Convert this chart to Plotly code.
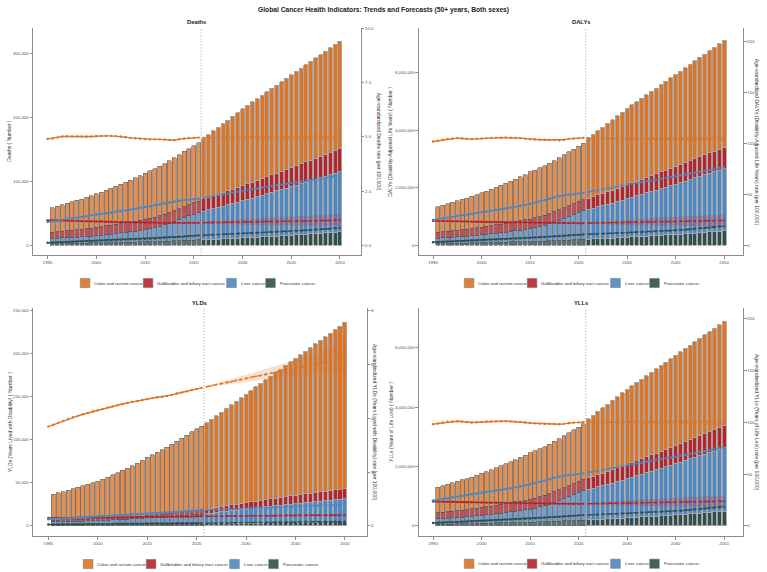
import plotly.graph_objects as go

# ---------------- data ----------------
bar_years = list(range(1991, 2051))      # stacked bars
rate_years = list(range(1990, 2051))     # age-standardized rate lines
last_observed = 2021
band_years = [2022, 2029, 2036, 2043, 2050]

cancers = ["Colon and rectum cancer", "Gallbladder and biliary tract cancer",
           "Liver cancer", "Pancreatic cancer"]
colors = {"Colon and rectum cancer": "#DD7426",
          "Gallbladder and biliary tract cancer": "#B8242C",
          "Liver cancer": "#4C87C6",
          "Pancreatic cancer": "#2F4F4F"}
rgb = {"Colon and rectum cancer": "221,116,38",
       "Gallbladder and biliary tract cancer": "200,40,50",
       "Liver cancer": "76,135,198",
       "Pancreatic cancer": "47,79,79"}

# ---- Deaths (thousands) ----
deaths_colon_k = [38.7, 40.3, 41.9, 43.2, 44.6, 46.0, 47.4, 48.9, 50.6, 52.5,
                  54.2, 56.0, 57.9, 59.8, 61.8, 63.7, 65.7, 67.8, 70.2, 72.8,
                  74.6, 76.3, 77.9, 79.5, 81.2, 83.0, 85.0, 86.9, 88.5, 89.7,
                  91.8, 95.4, 98.6, 101.8, 105.0, 108.2, 111.3, 114.4, 117.5, 120.5,
                  123.1, 125.6, 128.1, 130.6, 133.1, 135.6, 138.1, 140.5, 143.0, 145.4,
                  147.8, 150.2, 152.5, 154.8, 157.2, 159.5, 161.8, 164.1, 166.4, 168.7]
deaths_gb_k = [9.9, 10.2, 10.5, 10.8, 11.1, 11.4, 11.7, 12.1, 12.5, 13.0,
               13.3, 13.6, 13.9, 14.2, 14.5, 14.8, 15.1, 15.4, 15.7, 16.0,
               16.2, 16.3, 16.5, 16.6, 16.8, 16.9, 17.0, 17.2, 17.3, 17.5,
               17.8, 18.9, 19.5, 20.1, 20.7, 21.3, 21.9, 22.5, 23.1, 23.8,
               24.4, 25.0, 25.6, 26.2, 26.8, 27.4, 28.0, 28.6, 29.3, 30.0,
               30.6, 31.2, 31.9, 32.5, 33.2, 33.8, 34.5, 35.1, 35.8, 36.5]
deaths_liver_k = [8.3, 8.6, 8.9, 9.2, 9.5, 9.8, 10.1, 10.5, 10.9, 11.4,
                  12.0, 12.6, 13.3, 14.0, 14.8, 15.6, 16.4, 17.2, 18.1, 19.0,
                  20.4, 21.9, 23.5, 25.5, 27.8, 30.2, 32.9, 35.5, 38.2, 41.0,
                  43.0, 44.9, 46.4, 48.0, 49.5, 51.1, 52.7, 54.4, 56.2, 58.0,
                  59.8, 61.6, 63.4, 65.2, 67.0, 68.8, 70.6, 72.4, 74.2, 76.0,
                  77.8, 79.6, 81.4, 83.2, 85.0, 86.8, 88.6, 90.4, 92.2, 94.0]
deaths_panc_k = [2.0, 2.2, 2.3, 2.5, 2.7, 2.8, 3.0, 3.2, 3.4, 3.6,
                 3.8, 3.9, 4.1, 4.3, 4.4, 4.6, 4.7, 4.9, 5.0, 5.2,
                 5.4, 5.6, 5.8, 6.1, 6.4, 6.7, 7.0, 7.3, 7.5, 7.8,
                 8.2, 8.6, 8.9, 9.3, 9.6, 10.0, 10.3, 10.7, 11.1, 11.5,
                 11.9, 12.3, 12.7, 13.1, 13.5, 13.9, 14.3, 14.7, 15.1, 15.6,
                 16.1, 16.6, 17.1, 17.6, 18.2, 18.7, 19.2, 19.7, 20.3, 20.8]

# ---- DALYs (millions) ----
dalys_colon_m = [0.890, 0.927, 0.960, 0.989, 1.021, 1.053, 1.081, 1.115, 1.154, 1.197,
                 1.230, 1.271, 1.314, 1.357, 1.397, 1.440, 1.485, 1.532, 1.580, 1.638,
                 1.664, 1.694, 1.722, 1.749, 1.778, 1.809, 1.845, 1.877, 1.903, 1.920,
                 1.965, 2.099, 2.169, 2.240, 2.310, 2.380, 2.449, 2.517, 2.585, 2.651,
                 2.708, 2.763, 2.818, 2.873, 2.928, 2.983, 3.038, 3.091, 3.146, 3.199,
                 3.252, 3.304, 3.355, 3.406, 3.458, 3.509, 3.560, 3.610, 3.661, 3.711]
dalys_gb_m = [0.208, 0.214, 0.221, 0.227, 0.233, 0.239, 0.246, 0.254, 0.263, 0.273,
              0.279, 0.286, 0.292, 0.298, 0.305, 0.311, 0.317, 0.323, 0.330, 0.336,
              0.340, 0.342, 0.346, 0.349, 0.353, 0.355, 0.357, 0.361, 0.363, 0.368,
              0.374, 0.393, 0.405, 0.418, 0.430, 0.443, 0.455, 0.467, 0.479, 0.494,
              0.506, 0.518, 0.530, 0.542, 0.554, 0.566, 0.578, 0.590, 0.604, 0.618,
              0.630, 0.642, 0.656, 0.668, 0.682, 0.694, 0.708, 0.720, 0.733, 0.747]
dalys_liver_m = [0.195, 0.202, 0.209, 0.216, 0.223, 0.230, 0.237, 0.247, 0.256, 0.268,
                 0.282, 0.296, 0.313, 0.329, 0.348, 0.367, 0.385, 0.404, 0.425, 0.447,
                 0.479, 0.515, 0.552, 0.599, 0.653, 0.710, 0.773, 0.834, 0.898, 0.964,
                 1.011, 1.033, 1.067, 1.104, 1.139, 1.175, 1.212, 1.251, 1.293, 1.334,
                 1.375, 1.417, 1.458, 1.500, 1.541, 1.582, 1.624, 1.665, 1.707, 1.748,
                 1.789, 1.831, 1.872, 1.914, 1.955, 1.996, 2.038, 2.079, 2.121, 2.162]
dalys_panc_m = [0.048, 0.053, 0.055, 0.060, 0.065, 0.067, 0.072, 0.077, 0.082, 0.086,
                0.091, 0.094, 0.098, 0.103, 0.106, 0.110, 0.113, 0.118, 0.120, 0.125,
                0.130, 0.134, 0.139, 0.146, 0.154, 0.161, 0.168, 0.175, 0.180, 0.187,
                0.197, 0.206, 0.214, 0.223, 0.230, 0.240, 0.247, 0.257, 0.266, 0.276,
                0.286, 0.295, 0.305, 0.314, 0.324, 0.334, 0.343, 0.353, 0.362, 0.374,
                0.386, 0.398, 0.410, 0.422, 0.437, 0.449, 0.461, 0.473, 0.487, 0.499]

# ---- YLDs (thousands) ----
ylds_colon_k = [30.0, 31.5, 32.9, 34.4, 35.8, 37.2, 38.8, 40.3, 41.8, 43.4,
                45.5, 47.7, 49.9, 52.3, 54.5, 57.0, 59.3, 61.9, 64.6, 68.0,
                70.3, 72.6, 75.0, 77.4, 79.9, 82.9, 85.7, 88.4, 91.5, 94.4,
                96.8, 100.1, 103.2, 106.5, 109.6, 112.8, 116.0, 119.3, 122.5, 125.7,
                129.0, 132.3, 135.6, 138.9, 142.2, 145.6, 148.8, 152.2, 155.4, 158.8,
                162.1, 165.5, 168.8, 172.2, 175.5, 178.9, 182.2, 185.7, 189.0, 192.5]
ylds_gb_k = [1.9, 1.9, 1.9, 2.0, 2.0, 2.0, 2.0, 2.0, 2.0, 2.0,
             2.1, 2.1, 2.2, 2.2, 2.3, 2.3, 2.4, 2.4, 2.5, 2.5,
             2.7, 2.9, 3.1, 3.3, 3.6, 3.8, 4.1, 4.4, 4.7, 5.0,
             5.2, 5.4, 5.7, 5.9, 6.2, 6.5, 6.7, 7.0, 7.2, 7.5,
             7.7, 8.0, 8.2, 8.5, 8.7, 8.9, 9.2, 9.4, 9.7, 9.9,
             10.1, 10.3, 10.5, 10.7, 10.8, 11.0, 11.2, 11.3, 11.5, 11.6]
ylds_liver_k = [3.7, 3.8, 3.9, 4.0, 4.2, 4.3, 4.4, 4.6, 4.8, 5.0,
                5.2, 5.4, 5.6, 5.8, 6.1, 6.3, 6.6, 6.9, 7.2, 7.6,
                7.9, 8.2, 8.5, 8.8, 9.1, 9.4, 9.8, 10.2, 10.6, 11.0,
                11.4, 11.8, 12.4, 13.0, 13.6, 14.2, 14.8, 15.3, 15.9, 16.5,
                17.0, 17.5, 18.0, 18.5, 19.0, 19.5, 20.0, 20.5, 21.0, 21.5,
                22.0, 22.5, 23.0, 23.5, 24.1, 24.6, 25.1, 25.6, 26.1, 26.6]
ylds_panc_k = [0.9, 0.9, 1.0, 1.0, 1.0, 1.1, 1.1, 1.1, 1.2, 1.2,
               1.2, 1.3, 1.3, 1.3, 1.4, 1.4, 1.5, 1.5, 1.5, 1.6,
               1.6, 1.7, 1.7, 1.8, 1.8, 1.9, 1.9, 2.0, 2.0, 2.1,
               2.1, 2.2, 2.3, 2.4, 2.5, 2.6, 2.7, 2.8, 2.9, 3.0,
               3.1, 3.2, 3.3, 3.4, 3.5, 3.6, 3.7, 3.8, 3.9, 4.0,
               4.1, 4.2, 4.3, 4.4, 4.5, 4.6, 4.7, 4.8, 4.9, 5.0]

# ---- YLLs (millions) ----
ylls_colon_m = [0.860, 0.896, 0.927, 0.955, 0.985, 1.016, 1.042, 1.075, 1.112, 1.154,
                1.185, 1.223, 1.264, 1.305, 1.343, 1.383, 1.426, 1.470, 1.515, 1.570,
                1.594, 1.621, 1.647, 1.672, 1.698, 1.726, 1.759, 1.789, 1.812, 1.826,
                1.868, 1.999, 2.066, 2.134, 2.200, 2.267, 2.333, 2.398, 2.463, 2.525,
                2.579, 2.631, 2.682, 2.734, 2.786, 2.837, 2.889, 2.939, 2.991, 3.040,
                3.090, 3.139, 3.186, 3.234, 3.283, 3.330, 3.378, 3.424, 3.472, 3.519]
ylls_gb_m = [0.206, 0.212, 0.219, 0.225, 0.231, 0.237, 0.244, 0.252, 0.261, 0.271,
             0.277, 0.284, 0.290, 0.296, 0.303, 0.309, 0.315, 0.321, 0.328, 0.334,
             0.337, 0.339, 0.343, 0.346, 0.349, 0.351, 0.353, 0.357, 0.358, 0.363,
             0.369, 0.388, 0.399, 0.412, 0.424, 0.437, 0.448, 0.460, 0.472, 0.487,
             0.498, 0.510, 0.522, 0.534, 0.545, 0.557, 0.569, 0.581, 0.594, 0.608,
             0.620, 0.632, 0.646, 0.657, 0.671, 0.683, 0.697, 0.709, 0.722, 0.735]
ylls_liver_m = [0.191, 0.198, 0.205, 0.212, 0.219, 0.226, 0.233, 0.242, 0.251, 0.263,
                0.277, 0.291, 0.307, 0.323, 0.342, 0.361, 0.378, 0.397, 0.418, 0.439,
                0.471, 0.507, 0.544, 0.590, 0.644, 0.701, 0.763, 0.824, 0.887, 0.953,
                1.000, 1.021, 1.055, 1.091, 1.125, 1.161, 1.197, 1.236, 1.277, 1.318,
                1.358, 1.400, 1.440, 1.482, 1.522, 1.563, 1.604, 1.645, 1.686, 1.727,
                1.767, 1.809, 1.849, 1.891, 1.931, 1.971, 2.013, 2.053, 2.095, 2.135]
ylls_panc_m = [0.047, 0.052, 0.054, 0.059, 0.064, 0.066, 0.071, 0.076, 0.081, 0.085,
               0.090, 0.093, 0.097, 0.102, 0.105, 0.109, 0.112, 0.117, 0.119, 0.123,
               0.128, 0.132, 0.137, 0.144, 0.152, 0.159, 0.166, 0.173, 0.178, 0.185,
               0.195, 0.204, 0.212, 0.221, 0.228, 0.237, 0.244, 0.254, 0.263, 0.273,
               0.283, 0.292, 0.302, 0.311, 0.321, 0.330, 0.339, 0.349, 0.358, 0.370,
               0.382, 0.394, 0.406, 0.418, 0.432, 0.444, 0.456, 0.468, 0.482, 0.494]

# ---- Age-standardized rates per 100,000 (1990-2050; >2021 forecast) ----
rate_deaths_colon = [4.91, 4.93, 4.98, 5.02, 5.03, 5.02, 5.02, 5.02, 5.01, 5.02,
                     5.03, 5.05, 5.05, 5.05, 5.04, 5.02, 4.99, 4.96, 4.94, 4.92,
                     4.90, 4.89, 4.89, 4.89, 4.88, 4.86, 4.85, 4.90, 4.93, 4.95,
                     4.96, 4.97, 4.97, 4.97, 4.97, 4.97, 4.98, 4.98, 4.98, 4.98,
                     4.98, 4.98, 4.98, 4.98, 4.98, 4.98, 4.98, 4.98, 4.98, 4.98,
                     4.98, 4.98, 4.98, 4.98, 4.98, 4.98, 4.98, 4.98, 4.98, 4.98,
                     4.98]
rate_deaths_gb = [1.15, 1.15, 1.14, 1.14, 1.13, 1.13, 1.12, 1.11, 1.11, 1.10,
                  1.09, 1.09, 1.08, 1.08, 1.07, 1.07, 1.06, 1.06, 1.05, 1.05,
                  1.04, 1.04, 1.04, 1.03, 1.03, 1.03, 1.03, 1.03, 1.03, 1.03,
                  1.03, 1.03, 1.04, 1.04, 1.05, 1.05, 1.05, 1.06, 1.06, 1.07,
                  1.07, 1.07, 1.08, 1.08, 1.08, 1.09, 1.09, 1.09, 1.10, 1.10,
                  1.10, 1.11, 1.11, 1.12, 1.12, 1.13, 1.13, 1.14, 1.14, 1.15,
                  1.16]
rate_deaths_liver = [1.07, 1.10, 1.13, 1.17, 1.20, 1.24, 1.27, 1.31, 1.34, 1.38,
                     1.41, 1.44, 1.47, 1.50, 1.53, 1.56, 1.60, 1.64, 1.68, 1.72,
                     1.76, 1.80, 1.85, 1.89, 1.94, 1.98, 2.02, 2.05, 2.08, 2.10,
                     2.12, 2.15, 2.19, 2.23, 2.27, 2.31, 2.35, 2.39, 2.43, 2.48,
                     2.52, 2.55, 2.59, 2.62, 2.66, 2.69, 2.73, 2.76, 2.80, 2.83,
                     2.87, 2.90, 2.94, 2.97, 3.01, 3.04, 3.08, 3.11, 3.15, 3.18,
                     3.22]
rate_deaths_panc = [0.11, 0.12, 0.13, 0.14, 0.15, 0.16, 0.17, 0.18, 0.19, 0.20,
                    0.21, 0.22, 0.23, 0.23, 0.24, 0.25, 0.26, 0.27, 0.27, 0.28,
                    0.29, 0.30, 0.31, 0.33, 0.34, 0.36, 0.37, 0.39, 0.40, 0.42,
                    0.43, 0.45, 0.46, 0.47, 0.48, 0.49, 0.50, 0.51, 0.52, 0.53,
                    0.54, 0.55, 0.56, 0.57, 0.58, 0.59, 0.60, 0.61, 0.62, 0.63,
                    0.64, 0.66, 0.67, 0.69, 0.70, 0.72, 0.73, 0.75, 0.76, 0.78,
                    0.80]
rate_dalys_colon = [101.8, 102.5, 103.6, 104.4, 104.8, 105.1, 104.8, 104.4, 104.1, 104.4,
                    104.8, 105.1, 105.4, 105.4, 105.6, 105.7, 105.5, 105.3, 105.1, 104.6,
                    104.1, 103.8, 103.6, 103.5, 103.4, 103.2, 103.1, 103.6, 104.4, 104.8,
                    105.1, 105.4, 104.9, 104.8, 104.7, 104.7, 104.6, 104.6, 104.6, 104.5,
                    104.5, 104.5, 104.5, 104.5, 104.5, 104.5, 104.5, 104.5, 104.5, 104.5,
                    104.5, 104.5, 104.5, 104.5, 104.5, 104.5, 104.5, 104.5, 104.5, 104.5,
                    104.5]
rate_dalys_gb = [23.8, 23.8, 23.7, 23.6, 23.5, 23.4, 23.3, 23.2, 23.1, 23.0,
                 22.9, 22.8, 22.7, 22.6, 22.6, 22.5, 22.4, 22.4, 22.3, 22.3,
                 22.2, 22.1, 22.1, 22.0, 21.9, 21.9, 21.8, 21.8, 21.7, 21.7,
                 21.6, 21.6, 21.7, 21.8, 21.9, 21.9, 22.0, 22.1, 22.2, 22.2,
                 22.3, 22.4, 22.5, 22.6, 22.7, 22.8, 22.9, 23.0, 23.1, 23.2,
                 23.3, 23.4, 23.5, 23.6, 23.7, 23.8, 23.9, 24.0, 24.0, 24.1,
                 24.2]
rate_dalys_liver = [24.8, 25.5, 26.3, 27.0, 27.8, 28.5, 29.3, 30.0, 30.8, 31.6,
                    32.4, 33.1, 33.8, 34.5, 35.2, 36.0, 36.8, 37.6, 38.5, 39.5,
                    40.5, 41.8, 43.0, 44.2, 45.5, 47.0, 48.1, 49.0, 49.6, 50.0,
                    50.6, 51.3, 52.2, 53.1, 54.0, 54.9, 55.8, 56.7, 57.6, 58.5,
                    59.5, 60.3, 61.1, 61.9, 62.7, 63.5, 64.3, 65.1, 65.9, 66.8,
                    67.6, 68.5, 69.4, 70.3, 71.2, 72.1, 73.0, 73.9, 74.8, 75.7,
                    76.5]
rate_dalys_panc = [2.9, 3.1, 3.3, 3.5, 3.7, 3.9, 4.1, 4.4, 4.6, 4.8,
                   5.0, 5.2, 5.4, 5.6, 5.8, 6.0, 6.3, 6.5, 6.7, 7.0,
                   7.2, 7.5, 7.8, 8.1, 8.4, 8.7, 9.0, 9.3, 9.7, 10.0,
                   10.3, 10.5, 10.7, 10.9, 11.1, 11.3, 11.4, 11.6, 11.8, 11.9,
                   12.0, 12.3, 12.5, 12.7, 13.0, 13.2, 13.4, 13.7, 13.9, 14.1,
                   14.4, 14.8, 15.2, 15.6, 16.1, 16.5, 16.9, 17.3, 17.8, 18.2,
                   18.6]
rate_ylds_colon = [3.69, 3.76, 3.83, 3.90, 3.97, 4.04, 4.09, 4.15, 4.20, 4.25,
                   4.30, 4.35, 4.40, 4.44, 4.49, 4.53, 4.57, 4.61, 4.64, 4.68,
                   4.71, 4.75, 4.78, 4.80, 4.83, 4.87, 4.92, 4.96, 5.00, 5.05,
                   5.09, 5.13, 5.17, 5.21, 5.25, 5.29, 5.33, 5.36, 5.40, 5.44,
                   5.48, 5.52, 5.56, 5.59, 5.63, 5.67, 5.71, 5.75, 5.78, 5.82,
                   5.86, 5.90, 5.94, 5.97, 6.01, 6.05, 6.09, 6.13, 6.16, 6.20,
                   6.24]
rate_ylds_gb = [0.30, 0.30, 0.30, 0.30, 0.30, 0.30, 0.31, 0.31, 0.31, 0.31,
                0.31, 0.31, 0.32, 0.32, 0.32, 0.32, 0.32, 0.33, 0.33, 0.33,
                0.33, 0.33, 0.34, 0.34, 0.34, 0.34, 0.35, 0.35, 0.35, 0.35,
                0.36, 0.36, 0.36, 0.36, 0.36, 0.37, 0.37, 0.37, 0.37, 0.37,
                0.37, 0.38, 0.38, 0.38, 0.38, 0.38, 0.38, 0.39, 0.39, 0.39,
                0.39, 0.39, 0.39, 0.39, 0.40, 0.40, 0.40, 0.40, 0.40, 0.40,
                0.40]
rate_ylds_liver = [0.25, 0.26, 0.27, 0.28, 0.29, 0.30, 0.31, 0.32, 0.33, 0.34,
                   0.35, 0.36, 0.37, 0.38, 0.39, 0.40, 0.41, 0.42, 0.43, 0.44,
                   0.45, 0.46, 0.47, 0.48, 0.49, 0.50, 0.51, 0.52, 0.53, 0.55,
                   0.56, 0.58, 0.59, 0.60, 0.61, 0.61, 0.62, 0.63, 0.64, 0.64,
                   0.65, 0.66, 0.67, 0.67, 0.68, 0.69, 0.70, 0.70, 0.71, 0.72,
                   0.73, 0.73, 0.74, 0.75, 0.76, 0.76, 0.77, 0.78, 0.79, 0.79,
                   0.80]
rate_ylds_panc = [0.05, 0.05, 0.05, 0.06, 0.06, 0.06, 0.06, 0.06, 0.07, 0.07,
                  0.07, 0.07, 0.07, 0.07, 0.08, 0.08, 0.08, 0.08, 0.08, 0.08,
                  0.09, 0.09, 0.09, 0.09, 0.09, 0.09, 0.10, 0.10, 0.10, 0.10,
                  0.10, 0.10, 0.10, 0.11, 0.11, 0.11, 0.11, 0.12, 0.12, 0.12,
                  0.12, 0.12, 0.13, 0.13, 0.13, 0.13, 0.14, 0.14, 0.14, 0.14,
                  0.14, 0.15, 0.15, 0.15, 0.15, 0.15, 0.16, 0.16, 0.16, 0.16,
                  0.16]
rate_ylls_colon = [98.3, 98.9, 99.9, 100.6, 100.9, 101.1, 100.8, 100.3, 99.9, 100.2,
                   100.5, 100.8, 101.0, 101.0, 101.1, 101.2, 101.0, 100.7, 100.5, 99.9,
                   99.4, 99.1, 98.8, 98.7, 98.6, 98.4, 98.2, 98.6, 99.4, 99.8,
                   100.0, 100.3, 100.3, 100.3, 100.3, 100.3, 100.3, 100.3, 100.3, 100.3,
                   100.3, 100.3, 100.3, 100.3, 100.3, 100.3, 100.3, 100.3, 100.3, 100.3,
                   100.3, 100.3, 100.3, 100.3, 100.3, 100.3, 100.3, 100.3, 100.3, 100.3,
                   100.3]
rate_ylls_gb = [23.5, 23.5, 23.4, 23.3, 23.2, 23.1, 23.0, 22.9, 22.8, 22.7,
                22.6, 22.5, 22.4, 22.3, 22.3, 22.2, 22.1, 22.1, 22.0, 22.0,
                21.9, 21.8, 21.8, 21.7, 21.6, 21.6, 21.5, 21.5, 21.4, 21.4,
                21.3, 21.3, 21.4, 21.5, 21.6, 21.6, 21.7, 21.8, 21.9, 21.9,
                22.0, 22.1, 22.2, 22.3, 22.4, 22.5, 22.6, 22.6, 22.7, 22.8,
                22.9, 23.0, 23.1, 23.2, 23.3, 23.4, 23.5, 23.6, 23.6, 23.7,
                23.8]
rate_ylls_liver = [24.5, 25.2, 26.0, 26.7, 27.5, 28.2, 29.0, 29.7, 30.5, 31.3,
                   32.0, 32.7, 33.4, 34.1, 34.8, 35.6, 36.4, 37.2, 38.1, 39.1,
                   40.1, 41.3, 42.5, 43.7, 45.0, 46.5, 47.6, 48.5, 49.1, 49.5,
                   50.0, 50.7, 51.6, 52.5, 53.4, 54.3, 55.2, 56.1, 57.0, 57.9,
                   58.8, 59.6, 60.4, 61.2, 62.0, 62.8, 63.6, 64.4, 65.2, 66.1,
                   66.9, 67.8, 68.7, 69.6, 70.5, 71.4, 72.3, 73.2, 74.0, 74.9,
                   75.7]
rate_ylls_panc = [2.8, 3.0, 3.2, 3.4, 3.6, 3.8, 4.0, 4.3, 4.5, 4.7,
                  4.9, 5.1, 5.3, 5.5, 5.7, 5.9, 6.2, 6.4, 6.6, 6.9,
                  7.1, 7.4, 7.7, 8.0, 8.3, 8.6, 8.9, 9.2, 9.6, 9.9,
                  10.2, 10.4, 10.6, 10.8, 11.0, 11.2, 11.3, 11.5, 11.7, 11.8,
                  11.9, 12.2, 12.4, 12.6, 12.9, 13.1, 13.3, 13.6, 13.8, 14.0,
                  14.3, 14.7, 15.1, 15.5, 16.0, 16.4, 16.8, 17.2, 17.7, 18.1,
                  18.5]

# ---- forecast uncertainty bands (at band_years) ----
band_deaths_lo = {"Colon and rectum cancer": [4.95, 4.92, 4.89, 4.86, 4.83],
                  "Gallbladder and biliary tract cancer": [1.01, 0.95, 0.91, 0.89, 0.88],
                  "Liver cancer": [2.18, 2.45, 2.68, 2.90, 3.13],
                  "Pancreatic cancer": [0.45, 0.51, 0.57, 0.65, 0.75]}
band_deaths_hi = {"Colon and rectum cancer": [4.99, 5.04, 5.07, 5.10, 5.13],
                  "Gallbladder and biliary tract cancer": [1.07, 1.19, 1.27, 1.35, 1.44],
                  "Liver cancer": [2.20, 2.51, 2.78, 3.04, 3.31],
                  "Pancreatic cancer": [0.47, 0.55, 0.63, 0.73, 0.85]}
band_dalys_lo = {"Colon and rectum cancer": [104.1, 103.3, 102.7, 102.1, 101.5],
                 "Gallbladder and biliary tract cancer": [21.1, 19.7, 19.1, 18.7, 18.2],
                 "Liver cancer": [52.0, 57.9, 63.3, 68.9, 74.7],
                 "Pancreatic cancer": [10.5, 11.4, 12.9, 14.5, 17.2]}
band_dalys_hi = {"Colon and rectum cancer": [104.9, 105.7, 106.3, 106.9, 107.5],
                 "Gallbladder and biliary tract cancer": [22.3, 24.7, 26.7, 28.5, 30.2],
                 "Liver cancer": [52.4, 59.1, 65.3, 71.7, 78.3],
                 "Pancreatic cancer": [10.9, 12.4, 14.5, 16.7, 20.0]}
band_ylds_lo = {"Colon and rectum cancer": [5.15, 5.32, 5.49, 5.62, 5.70],
                "Gallbladder and biliary tract cancer": [0.35, 0.35, 0.35, 0.35, 0.35],
                "Liver cancer": [0.58, 0.62, 0.67, 0.71, 0.75],
                "Pancreatic cancer": [0.095, 0.11, 0.125, 0.13, 0.135]}
band_ylds_hi = {"Colon and rectum cancer": [5.19, 5.56, 5.93, 6.32, 6.85],
                "Gallbladder and biliary tract cancer": [0.37, 0.39, 0.41, 0.43, 0.45],
                "Liver cancer": [0.60, 0.66, 0.73, 0.79, 0.85],
                "Pancreatic cancer": [0.105, 0.13, 0.155, 0.17, 0.185]}
band_ylls_lo = {"Colon and rectum cancer": [99.9, 99.1, 98.5, 97.9, 97.3],
                "Gallbladder and biliary tract cancer": [20.8, 19.5, 18.9, 18.4, 18.0],
                "Liver cancer": [51.4, 57.3, 63.4, 68.2, 73.9],
                "Pancreatic cancer": [10.4, 11.3, 12.8, 14.4, 17.1]}
band_ylls_hi = {"Colon and rectum cancer": [100.7, 101.5, 102.1, 102.7, 103.3],
                "Gallbladder and biliary tract cancer": [22.0, 24.3, 26.3, 28.0, 29.6],
                "Liver cancer": [51.8, 58.5, 65.4, 71.0, 77.5],
                "Pancreatic cancer": [10.8, 12.3, 14.4, 16.6, 19.9]}

x_ticks = [1990, 2000, 2010, 2020, 2030, 2040, 2050]

# ---------------- panel definitions ----------------
C, G, L, P = cancers
panels = [
    dict(title="Deaths", unit=1e3,
         bars={C: deaths_colon_k, G: deaths_gb_k, L: deaths_liver_k, P: deaths_panc_k},
         rates={C: rate_deaths_colon, G: rate_deaths_gb, L: rate_deaths_liver, P: rate_deaths_panc},
         lo=band_deaths_lo, hi=band_deaths_hi,
         ytitle="Deaths ( Number )",
         rtitle="Age-standardized Deaths rate (per 100,000)",
         yticks=[0, 100000, 200000, 300000], yrange=[-16100, 340600],
         rticks=[0, 2.5, 5, 7.5, 10], rfmt=".1f", rrange=[-0.474, 10.04],
         px_x=(33, 360.7), px_y=(26, 254.3), xrange=[1987.0, 2054.25],
         ytitle_x=9, rtitle_x=379, title_y=20, leg_cx=196.7, leg_y=282),
    dict(title="DALYs", unit=1e6,
         bars={C: dalys_colon_m, G: dalys_gb_m, L: dalys_liver_m, P: dalys_panc_m},
         rates={C: rate_dalys_colon, G: rate_dalys_gb, L: rate_dalys_liver, P: rate_dalys_panc},
         lo=band_dalys_lo, hi=band_dalys_hi,
         ytitle="DALYs (Disability-Adjusted Life Years) ( Number )",
         rtitle="Age-standardized DALYs (Disability-Adjusted Life Years) rate (per 100,000)",
         yticks=[0, 2000000, 4000000, 6000000], yrange=[-357000, 7556000],
         rticks=[0, 50, 100, 150, 200], rfmt="d", rrange=[-10.1, 213.4],
         px_x=(418.7, 743), px_y=(26, 254.3), xrange=[1987.05, 2053.9],
         ytitle_x=390, rtitle_x=757, title_y=20, leg_cx=580.7, leg_y=282),
    dict(title="YLDs", unit=1e3,
         bars={C: ylds_colon_k, G: ylds_gb_k, L: ylds_liver_k, P: ylds_panc_k},
         rates={C: rate_ylds_colon, G: rate_ylds_gb, L: rate_ylds_liver, P: rate_ylds_panc},
         lo=band_ylds_lo, hi=band_ylds_hi,
         ytitle="YLDs (Years Lived with Disability) ( Number )",
         rtitle="Age-standardized YLDs (Years Lived with Disability) rate (per 100,000)",
         yticks=[0, 50000, 100000, 150000, 200000, 250000], yrange=[-11900, 252500],
         rticks=[0, 2, 4, 6, 8], rfmt="d", rrange=[-0.38, 8.1],
         px_x=(33, 366.7), px_y=(307, 536), xrange=[1986.9, 2054.4],
         ytitle_x=10, rtitle_x=375, title_y=302, leg_cx=199.7, leg_y=564),
    dict(title="YLLs", unit=1e6,
         bars={C: ylls_colon_m, G: ylls_gb_m, L: ylls_liver_m, P: ylls_panc_m},
         rates={C: rate_ylls_colon, G: rate_ylls_gb, L: rate_ylls_liver, P: rate_ylls_panc},
         lo=band_ylls_lo, hi=band_ylls_hi,
         ytitle="YLLs (Years of Life Lost) ( Number )",
         rtitle="Age-standardized YLLs (Years of Life Lost) rate (per 100,000)",
         yticks=[0, 2000000, 4000000, 6000000], yrange=[-346000, 7350000],
         rticks=[0, 50, 100, 150, 200], rfmt="d", rrange=[-9.9, 210.9],
         px_x=(418.7, 743), px_y=(306.7, 536), xrange=[1987.05, 2053.9],
         ytitle_x=391, rtitle_x=757, title_y=302, leg_cx=580.7, leg_y=563.7),
]

for p in panels:
    for c in cancers:
        assert len(p["bars"][c]) == len(bar_years), (p["title"], c, "bars")
        assert len(p["rates"][c]) == len(rate_years), (p["title"], c, "rates")

# ---------------- figure ----------------
W, H = 767, 572
FONT = "Liberation Sans, Arial, sans-serif"
AXC = "#8c8c8c"
TXT = "#4d4d4d"

fig = go.Figure()
layout = dict(width=W, height=H, margin=dict(l=0, r=0, t=0, b=0),
              paper_bgcolor="white", plot_bgcolor="white",
              barmode="stack", bargap=0.18, showlegend=False,
              font=dict(family=FONT, color=TXT))
annotations, shapes = [], []

def fx(px):
    return px / W

def fy(py):
    return 1 - py / H

def note(text, px, py, size, color="#333", angle=0, xanchor="center"):
    return dict(text=text, x=fx(px), y=fy(py), xref="paper", yref="paper",
                xanchor=xanchor, yanchor="middle", showarrow=False,
                textangle=angle, font=dict(size=size, color=color, family=FONT))

stack_order = [P, L, G, C]  # bottom -> top
for i, p in enumerate(panels):
    sfx = "" if i == 0 else str(i + 1)
    xa, ya, ra = "x" + sfx, "y" + sfx, "y" + str(i + 5)
    dom_x = [fx(p["px_x"][0]), fx(p["px_x"][1])]
    dom_y = [fy(p["px_y"][1]), fy(p["px_y"][0])]

    # stacked bars
    hist = [yr <= last_observed for yr in bar_years]
    for c in stack_order:
        fig.add_trace(go.Bar(
            x=bar_years, y=[v * p["unit"] for v in p["bars"][c]],
            name=c, xaxis=xa, yaxis=ya, hoverinfo="skip",
            marker=dict(color=colors[c],
                        opacity=[0.8 if h else 1.0 for h in hist],
                        line=dict(color=["#4a4a4a" if h else "#a6a6a6" for h in hist],
                                  width=[0.7 if h else 0.9 for h in hist]))))

    # forecast uncertainty ribbons
    for c in cancers:
        fig.add_trace(go.Scatter(
            x=band_years + band_years[::-1],
            y=p["hi"][c] + p["lo"][c][::-1],
            fill="toself", fillcolor="rgba(%s,0.22)" % rgb[c],
            line=dict(width=0), mode="lines", hoverinfo="skip",
            xaxis=xa, yaxis=ra))
    # rate lines (observed solid, forecast dashed)
    for c in cancers:
        r = p["rates"][c]
        hx = [y for y in rate_years if y <= last_observed]
        hy = [v for y, v in zip(rate_years, r) if y <= last_observed]
        fxs = [y for y in rate_years if y > last_observed]
        fys = [v for y, v in zip(rate_years, r) if y > last_observed]
        fig.add_trace(go.Scatter(x=hx, y=hy, mode="lines+markers",
                                 line=dict(color=colors[c], width=1.4),
                                 marker=dict(size=2.4, color=colors[c]),
                                 xaxis=xa, yaxis=ra, hoverinfo="skip"))
        fig.add_trace(go.Scatter(x=fxs, y=fys, mode="lines+markers",
                                 line=dict(color=colors[c], width=1.4, dash="4px,2.5px"),
                                 marker=dict(size=2.0, color=colors[c]),
                                 xaxis=xa, yaxis=ra, hoverinfo="skip"))

    common = dict(showline=True, linecolor=AXC, linewidth=1, ticks="outside",
                  ticklen=2.5, tickwidth=0.8, tickcolor=AXC, showgrid=False,
                  zeroline=False, tickfont=dict(size=4.3, color=TXT, family=FONT))
    layout["xaxis" + sfx] = dict(domain=dom_x, range=p["xrange"], anchor=ya,
                                 tickvals=x_ticks, **common)
    layout["yaxis" + sfx] = dict(domain=dom_y, range=p["yrange"], anchor=xa,
                                 tickvals=p["yticks"], tickformat=",", **common)
    layout["yaxis" + str(i + 5)] = dict(overlaying=ya, side="right", anchor=xa,
                                        range=p["rrange"], tickvals=p["rticks"],
                                        tickformat=p["rfmt"], **common)

    # forecast start marker
    shapes.append(dict(type="line", xref=xa, yref=ya + " domain",
                       x0=2021.5, x1=2021.5, y0=0, y1=1, layer="above",
                       line=dict(color="#8a8a8a", width=0.8, dash="1px,2px")))

    # titles
    cx = (p["px_x"][0] + p["px_x"][1]) / 2
    cy = (p["px_y"][0] + p["px_y"][1]) / 2
    annotations.append(note("<b>%s</b>" % p["title"], cx, p["title_y"], 5.8, "#222"))
    annotations.append(note(p["ytitle"], p["ytitle_x"], cy, 5.0, angle=-90))
    annotations.append(note(p["rtitle"], p["rtitle_x"], cy, 5.0, angle=90))

    # legend (manual, below each panel)
    item_off = [0, 63.0, 146.4, 185.4]
    left = p["leg_cx"] - 116.4
    for k, c in enumerate(cancers):
        sx = left + item_off[k]
        shapes.append(dict(type="rect", xref="paper", yref="paper",
                           x0=fx(sx), x1=fx(sx + 9.6),
                           y0=fy(p["leg_y"] + 4.6), y1=fy(p["leg_y"] - 4.6),
                           fillcolor=colors[c], opacity=0.9,
                           line=dict(color="#6e6e6e", width=0.6)))
        annotations.append(note(c, sx + 11.8, p["leg_y"], 4.4, xanchor="left"))

annotations.append(note(
    "<b>Global Cancer Health Indicators: Trends and Forecasts (50+ years, Both sexes)</b>",
    W / 2, 8, 6.7, "#222"))

layout["annotations"] = annotations
layout["shapes"] = shapes
fig.update_layout(**layout)
fig.write_html("out.html")
